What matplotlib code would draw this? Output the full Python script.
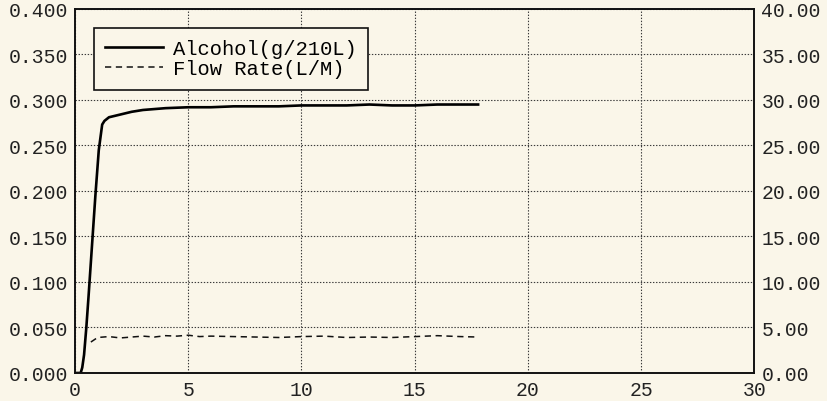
"""Breath alcohol and flow rate vs time, dual axis chart."""

import matplotlib

matplotlib.use("Agg")
import matplotlib.pyplot as plt

# alcohol concentration (g/210L), left axis
alcohol_t = [0.0, 0.25, 0.32, 0.4, 0.5, 0.6, 0.75, 0.9, 1.05, 1.2, 1.3, 1.5,
             2.0, 2.5, 3.0, 4.0, 5.0, 6.0, 7.0, 8.0, 9.0, 10.0, 11.0, 12.0,
             13.0, 14.0, 15.0, 16.0, 17.0, 17.8]
alcohol = [0.0, 0.0, 0.006, 0.02, 0.05, 0.085, 0.14, 0.195, 0.245, 0.273, 0.277,
           0.281, 0.284, 0.287, 0.289, 0.291, 0.292, 0.292, 0.293, 0.293, 0.293,
           0.294, 0.294, 0.294, 0.295, 0.294, 0.294, 0.295, 0.295, 0.295]

# flow rate (L/M), right axis
flow_t = [0.7, 1.0, 1.5, 2.0, 2.5, 3.0, 3.5, 4.0, 4.5, 5.0, 5.5, 6.0, 7.0, 8.0,
          9.0, 10.0, 11.0, 12.0, 13.0, 14.0, 15.0, 16.0, 17.0, 17.8]
flow = [3.4, 3.9, 4.0, 3.85, 3.95, 4.05, 3.95, 4.1, 4.05, 4.15, 4.0, 4.05, 4.0,
        3.95, 3.9, 4.0, 4.05, 3.9, 3.95, 3.9, 4.0, 4.1, 4.0, 3.95]

left_ticks = [0.0, 0.05, 0.10, 0.15, 0.20, 0.25, 0.30, 0.35, 0.40]
right_ticks = [0, 5, 10, 15, 20, 25, 30, 35, 40]
x_ticks = [0, 5, 10, 15, 20, 25, 30]

BG = "#faf6e9"
FONT = "Liberation Mono"

plt.rcParams.update({
    "font.family": FONT,
    "font.size": 14.2,
    "lines.scale_dashes": False,
})

fig = plt.figure(figsize=(8.27, 4.02), dpi=100, facecolor=BG)
ax = fig.add_axes([0.0907, 0.0697, 0.8215, 0.9055], facecolor=BG)
ax2 = ax.twinx()

(alc_line,) = ax.plot(alcohol_t, alcohol, color="black", linewidth=1.9,
                      label="Alcohol(g/210L)")
(flow_line,) = ax2.plot(flow_t, flow, color="#111111", linewidth=1.1,
                        linestyle=(0, (4.5, 3.3)), label="Flow Rate(L/M)")

ax.set_xlim(0, 30)
ax.set_ylim(0, 0.4)
ax2.set_ylim(0, 40)
ax.set_xticks(x_ticks)
ax.set_yticks(left_ticks)
ax2.set_yticks(right_ticks)
ax.set_xticklabels([str(t) for t in x_ticks])
ax.set_yticklabels([f"{v:.3f}" for v in left_ticks])
ax2.set_yticklabels([f"{v:.2f}" for v in right_ticks])

ax.grid(True, color="#3a3a3a", linewidth=0.8, linestyle=(0, (1.0, 1.2)))
ax.tick_params(axis="both", length=0, pad=5, colors="#222222")
ax2.tick_params(axis="y", length=0, pad=5, colors="#222222")

for a in (ax, ax2):
    for spine in a.spines.values():
        spine.set_linewidth(1.2)
        spine.set_color("#111111")

leg = ax.legend(handles=[alc_line, flow_line], loc="upper left",
                bbox_to_anchor=(0.028, 0.948), borderaxespad=0,
                fancybox=False, edgecolor="#111111", facecolor=BG,
                framealpha=1, handlelength=2.8, handletextpad=0.5,
                labelspacing=0.05, borderpad=0.55, fontsize=14.8)
leg.get_frame().set_linewidth(1.2)

fig.savefig("out.png", dpi=100, facecolor=BG)
